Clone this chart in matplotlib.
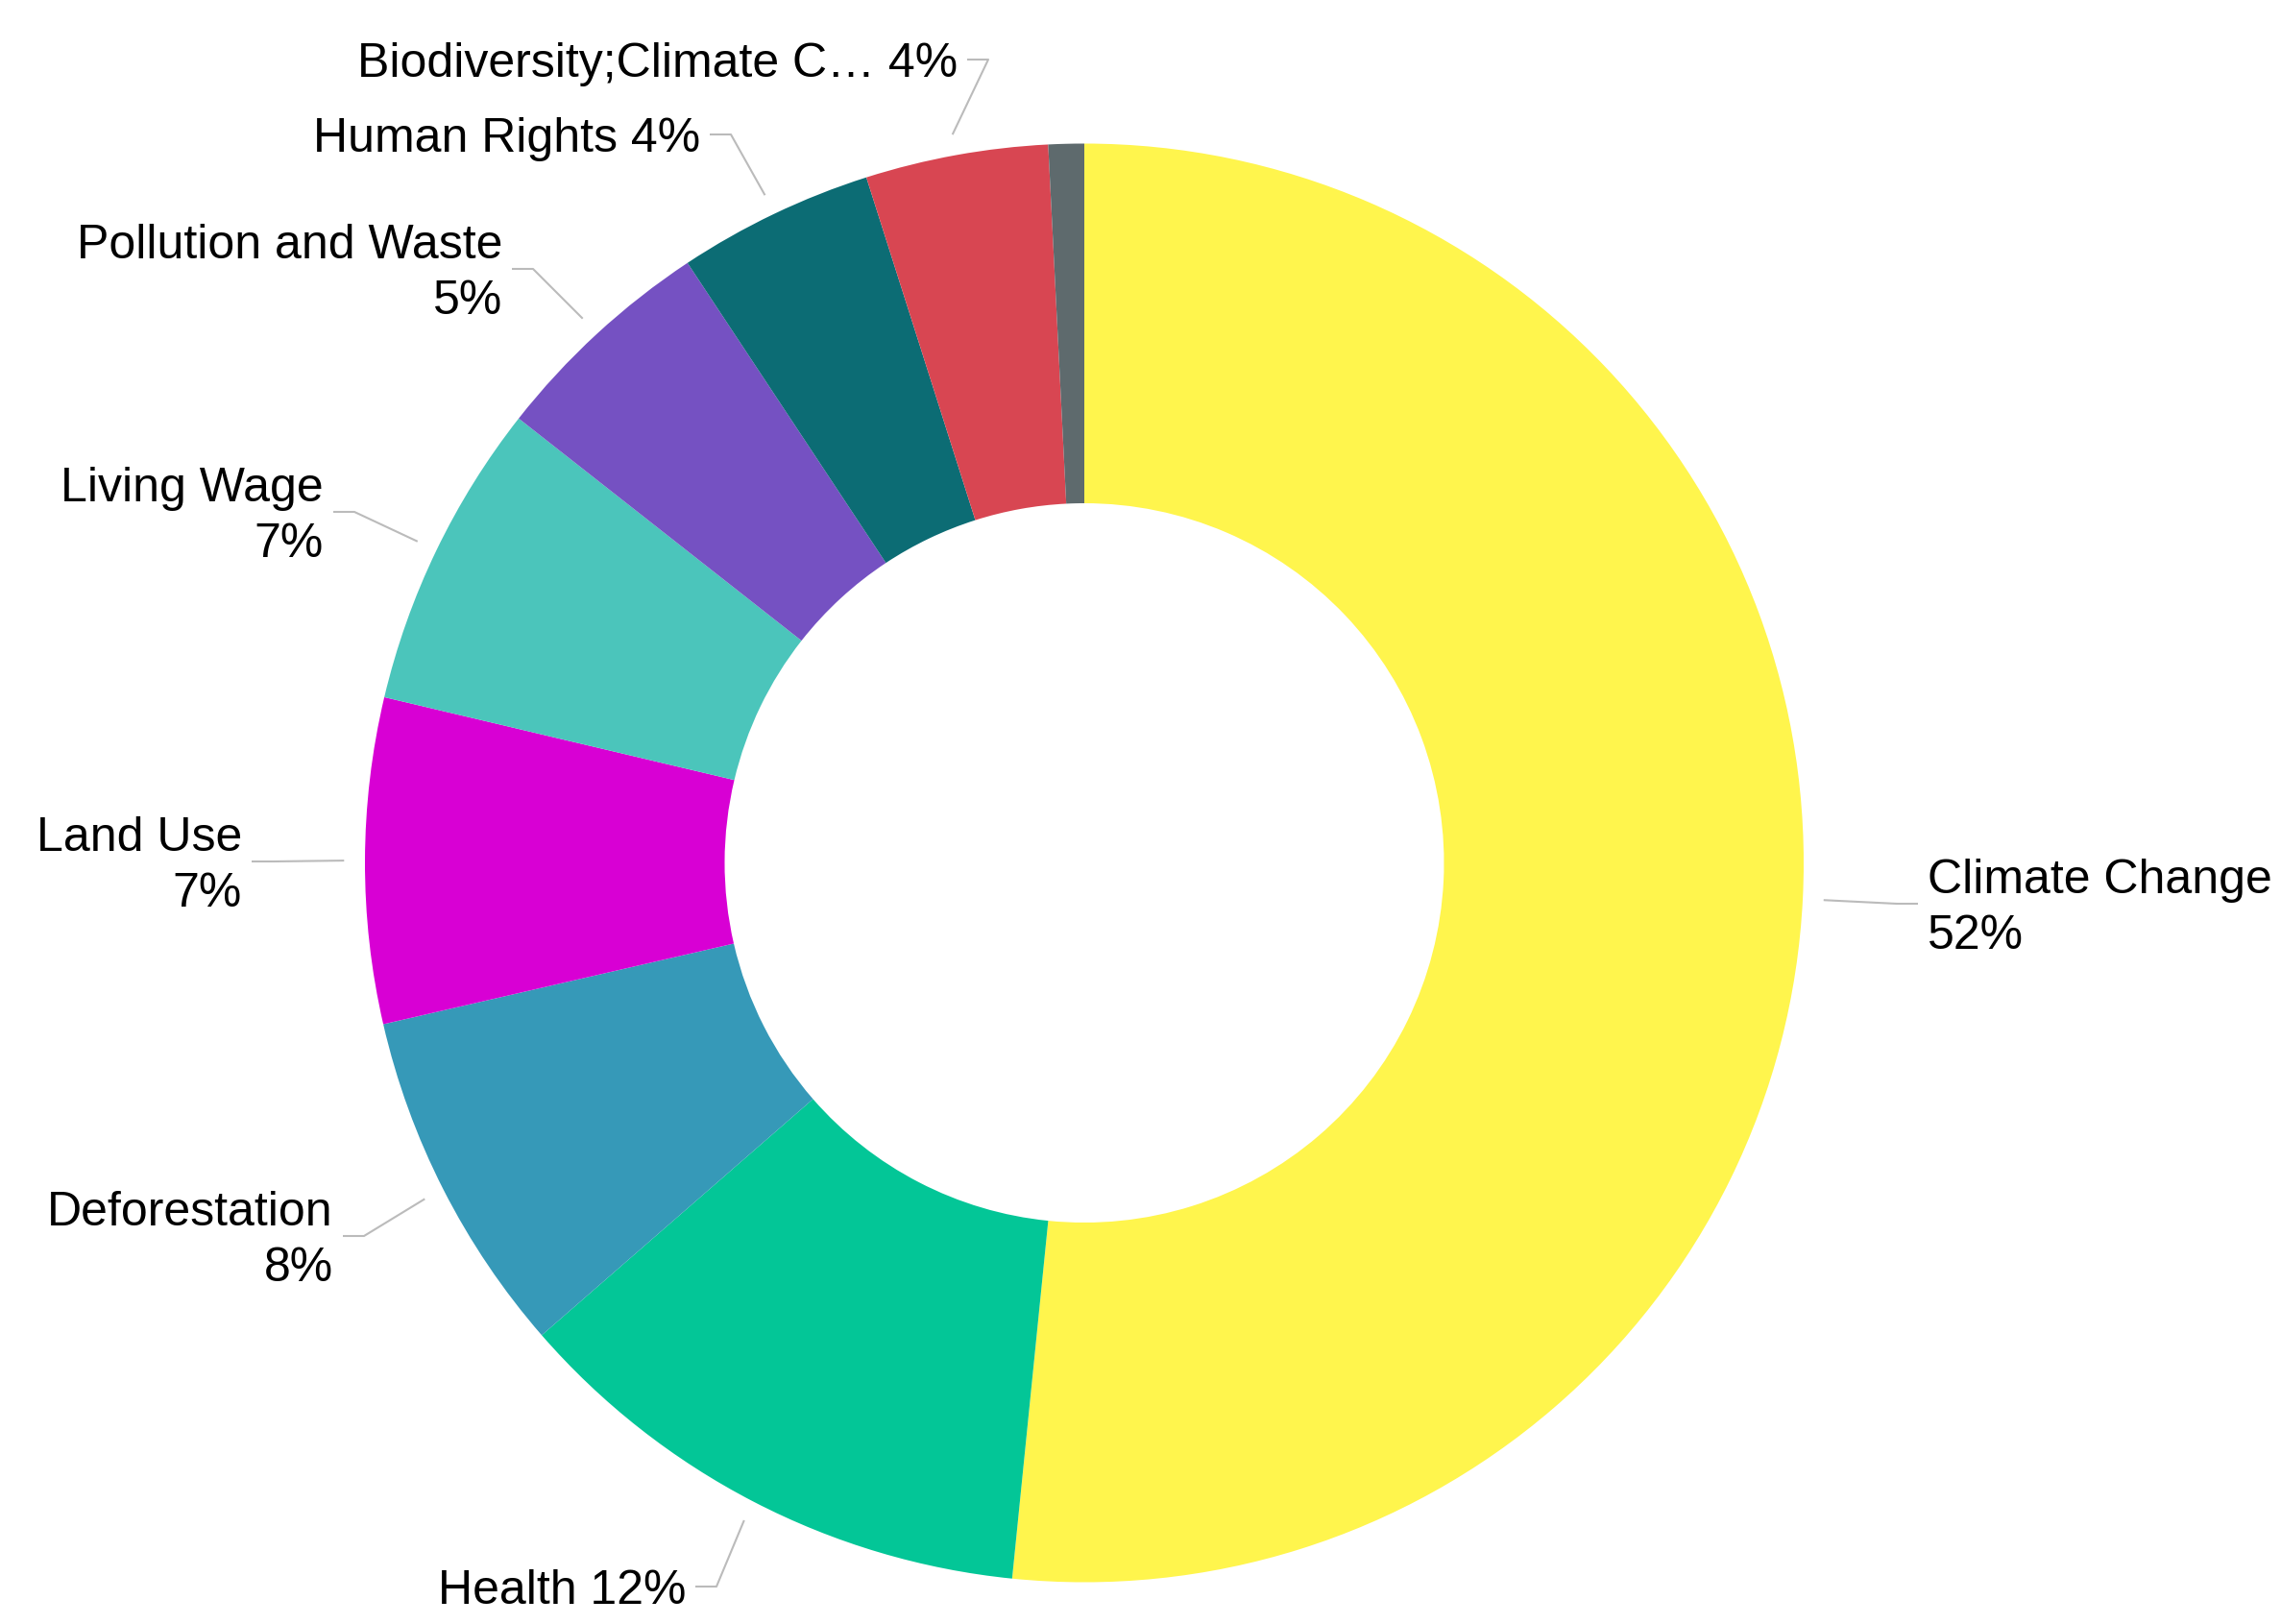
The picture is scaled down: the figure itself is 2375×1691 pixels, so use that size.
import matplotlib
matplotlib.use("Agg")
import matplotlib.pyplot as plt
import numpy as np

# ---- data ----
categories = ["Climate Change", "Health", "Deforestation", "Land Use", "Living Wage",
              "Pollution and Waste", "Human Rights", "Biodiversity;Climate C\u2026", "Other"]
values = [51.6, 12.0, 7.8, 7.3, 6.9, 5.1, 4.4, 4.1, 0.8]
colors = ["#FFF54D", "#03C697", "#3699B8", "#D800D4", "#4BC5BB",
          "#7551C2", "#0C6C74", "#D84652", "#5E6A6D"]
show_label = [True, True, True, True, True, True, True, True, False]

# ---- layout (pixel positions of the connector end next to each label) ----
W, H = 2375, 1691
CX, CY, R = 1129, 898.5, 749
label_layout = [  # (x_px, y_px, side, two_lines)
    (1997, 941, "left", True),
    (724, 1652, "right", False),
    (357, 1287, "right", True),
    (262, 897, "right", True),
    (347, 533, "right", True),
    (533, 280, "right", True),
    (739, 140, "right", False),
    (1007, 62, "right", False),
    None,
]
TEXT_DY = 5  # px, text sits slightly below the connector line

def px2d(x, y):
    return (x - CX) / R, (CY - y) / R

fig = plt.figure(figsize=(W / 100, H / 100), dpi=100)
ax = fig.add_axes([0, 0, 1, 1])
wedges, _ = ax.pie(values, colors=colors, startangle=90, counterclock=False,
                   radius=1, wedgeprops=dict(width=0.5, linewidth=0))
ax.set_xlim(-CX / R, (W - CX) / R)
ax.set_ylim(-(H - CY) / R, CY / R)
ax.set_aspect("equal")
ax.axis("off")

total = sum(values)
for w, name, v, show, lay in zip(wedges, categories, values, show_label, label_layout):
    if not show or lay is None:
        continue
    xpx, ypx, side, two = lay
    th = np.deg2rad((w.theta1 + w.theta2) / 2)
    tx, ty = 1.029 * np.cos(th), 1.029 * np.sin(th)
    sgn = 1 if side == "right" else -1
    ex, ey = px2d(xpx + sgn * 22, ypx)
    lx, ly = px2d(xpx, ypx)
    ax.plot([tx, ex, lx], [ty, ey, ly], color="#BBBBBB", lw=1.5, solid_capstyle="butt")
    pct = f"{round(v / total * 100)}%"
    txt = f"{name}\n{pct}" if two else f"{name} {pct}"
    txpx = xpx - 10 if side == "right" else xpx + 10
    tdx, tdy = px2d(txpx, ypx + TEXT_DY)
    ax.text(tdx, tdy, txt, ha=side, va="center", fontsize=36,
            family=["Liberation Sans", "DejaVu Sans"], color="#000000", linespacing=1.32)

fig.savefig("out.png", dpi=100, facecolor="white")
